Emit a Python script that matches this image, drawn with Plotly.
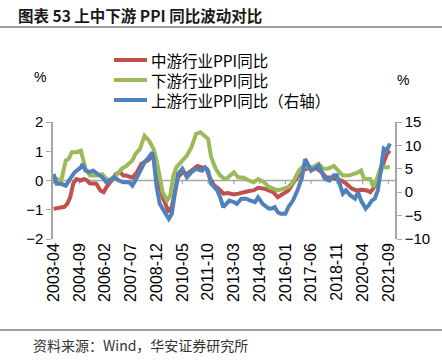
import plotly.graph_objects as go

# ---------------- data ----------------
mid_dates = ["2003-04","2003-07","2003-11","2004-01","2004-03","2004-05","2004-07","2004-10","2004-12","2005-02",
             "2005-04","2005-08","2005-11","2006-01","2006-03","2006-07","2006-09","2006-12","2007-02","2007-04",
             "2007-08","2007-11","2008-02","2008-06","2008-09","2008-10","2008-12","2009-02","2009-04","2009-07",
             "2009-08","2009-10","2009-12","2010-02","2010-05","2010-08","2010-11","2011-03","2011-06","2011-09",
             "2011-11","2012-02","2012-05","2012-08","2012-11","2013-03","2013-06","2013-09","2014-01","2014-04",
             "2014-07","2014-11","2015-02","2015-05","2015-08","2015-12","2016-03","2016-06","2016-10","2016-12",
             "2017-03","2017-06","2017-10","2018-01","2018-04","2018-08","2018-11","2019-02","2019-05","2019-09",
             "2019-12","2020-03","2020-07","2020-09","2020-11","2021-02","2021-06","2021-08","2021-10"]
mid_vals = [-0.97,-0.93,-0.90,-0.80,-0.57,-0.10,0.05,0.00,0.05,0.00,
            -0.10,-0.10,-0.35,-0.40,-0.22,0.05,0.22,0.28,0.17,0.17,
            0.10,0.28,0.57,0.68,0.80,0.85,0.45,-0.22,-0.57,-0.90,
            -1.08,-0.90,-0.35,0.10,0.28,0.22,0.34,0.50,0.45,0.40,
            0.10,-0.17,-0.28,-0.45,-0.43,-0.48,-0.45,-0.40,-0.36,-0.34,
            -0.25,-0.28,-0.34,-0.40,-0.57,-0.45,-0.34,-0.10,0.17,0.34,
            0.40,0.45,0.40,0.28,0.10,0.10,0.05,0.00,-0.10,-0.28,
            -0.34,-0.32,-0.34,-0.40,-0.28,0.00,0.62,0.90,1.02]

down_dates = ["2003-04","2003-06","2003-09","2003-12","2004-02","2004-04","2004-07","2004-10","2004-11","2005-01",
              "2005-04","2005-09","2005-12","2006-02","2006-05","2006-09","2007-01","2007-04","2007-08","2007-10",
              "2008-01","2008-04","2008-07","2008-10","2008-12","2009-02","2009-04","2009-07","2009-09","2009-11",
              "2010-01","2010-05","2010-08","2010-11","2011-02","2011-05","2011-08","2011-10","2011-12","2012-03",
              "2012-06","2012-09","2012-11","2013-03","2013-06","2013-09","2014-01","2014-04","2014-07","2014-11",
              "2015-02","2015-05","2015-08","2015-12","2016-03","2016-06","2016-10","2017-01","2017-04","2017-07",
              "2017-11","2018-02","2018-05","2018-09","2018-12","2019-03","2019-07","2019-10","2020-01","2020-03",
              "2020-05","2020-09","2020-11","2021-01","2021-04","2021-08","2021-10"]
down_vals = [0.10,0.05,0.00,0.68,0.74,0.97,0.97,1.02,0.80,0.40,
             0.17,0.17,0.22,0.10,0.00,0.17,0.40,0.50,0.68,0.90,
             1.08,1.53,1.36,1.08,0.68,0.10,-0.40,-0.68,-0.51,0.17,
             0.45,0.68,0.85,1.14,1.59,1.65,1.53,1.42,0.80,0.40,
             0.17,0.05,0.10,0.28,0.10,0.10,0.00,-0.06,0.05,-0.06,
             -0.22,-0.28,-0.34,-0.28,-0.22,-0.06,0.34,0.50,0.45,0.45,
             0.57,0.40,0.40,0.50,0.34,0.17,0.17,0.22,0.28,0.34,
             0.05,0.05,-0.22,0.00,0.45,0.45,0.45]

up_dates = ["2003-04","2003-06","2003-09","2003-12","2004-03","2004-06","2004-10","2004-11","2005-01","2005-04",
            "2005-06","2005-09","2005-12","2006-03","2006-05","2006-08","2006-11","2007-02","2007-06","2007-08",
            "2007-10","2008-01","2008-04","2008-07","2008-09","2008-10","2008-12","2009-02","2009-04","2009-07",
            "2009-08","2009-10","2009-12","2010-02","2010-05","2010-08","2010-11","2011-02","2011-06","2011-08",
            "2011-10","2011-12","2012-04","2012-06","2012-08","2012-10","2012-12","2013-03","2013-05","2013-08",
            "2013-11","2014-02","2014-05","2014-07","2014-10","2015-02","2015-04","2015-06","2015-08","2015-10",
            "2016-01","2016-03","2016-06","2016-09","2016-12","2017-02","2017-04","2017-06","2017-08","2017-11",
            "2018-01","2018-03","2018-06","2018-09","2018-11","2019-01","2019-03","2019-05","2019-08","2019-11",
            "2020-01","2020-03","2020-06","2020-08","2020-10","2020-12","2021-02","2021-04","2021-06","2021-08",
            "2021-10"]
up_vals = [3.9,1.8,1.8,1.4,2.9,4.3,5.3,6.0,4.6,4.3,
           4.6,3.9,3.2,2.1,2.5,3.2,2.5,2.1,2.1,1.4,
           2.5,4.6,6.4,7.5,8.5,7.1,1.1,-2.5,-3.5,-4.9,
           -5.7,-4.6,0.4,3.9,5.0,3.2,4.3,5.0,4.6,5.3,
           4.6,1.8,0.4,-1.1,-3.2,-2.5,-1.8,-2.1,-2.5,-1.4,
           -1.4,-1.8,-2.1,-1.1,-2.5,-3.5,-3.5,-3.2,-4.3,-4.6,
           -4.6,-3.2,-1.8,0.4,3.2,7.1,5.7,4.6,5.0,5.7,
           4.3,2.9,2.5,3.6,3.6,1.8,-0.3,0.4,-0.7,-1.4,
           0.0,-1.8,-3.5,-2.8,-1.8,-1.4,0.4,4.6,9.3,8.9,
           10.4]

tick_labels = ["2003-04","2004-09","2006-02","2007-07","2008-12","2010-05","2011-10",
               "2013-03","2014-08","2016-01","2017-06","2018-11","2020-04","2021-09"]

names = ["中游行业PPI同比", "下游行业PPI同比", "上游行业PPI同比（右轴）"]
colors = ["#C0504D", "#9BBB59", "#4F81BD"]
title_text = "图表 53 上中下游 PPI 同比波动对比"
source_text = "资料来源：Wind，华安证券研究所"

# ---------------- layout constants ----------------
W, H = 442, 360
L, R, T, B = 53, 395, 122, 239
PW = R - L
PH = B - T

def px_x(p):
    return (p - L) / PW

def px_y(p):
    return (B - p) / PH

FONT = "Liberation Sans, Arial, Noto Sans CJK SC, sans-serif"
CJK = "Noto Sans CJK SC, sans-serif"
AXC = "#A6A6A6"

fig = go.Figure()
fig.add_trace(go.Scatter(x=mid_dates, y=mid_vals, name=names[0], mode="lines",
                         line=dict(color=colors[0], width=4)))
fig.add_trace(go.Scatter(x=down_dates, y=down_vals, name=names[1], mode="lines",
                         line=dict(color=colors[1], width=4)))
fig.add_trace(go.Scatter(x=up_dates, y=up_vals, name=names[2], mode="lines", yaxis="y2",
                         line=dict(color=colors[2], width=4)))

tickvals = [t + "-01" for t in tick_labels]

shapes = []
shapes.append(dict(type="line", xref="paper", yref="y", x0=0, x1=1, y0=0, y1=0,
                   line=dict(color=AXC, width=1.5), layer="below"))
for tv in tickvals:
    shapes.append(dict(type="line", xref="x", yref="y", x0=tv, x1=tv, y0=0, y1=-0.13,
                       line=dict(color=AXC, width=1.2), layer="below"))
shapes.append(dict(type="line", xref="paper", yref="paper", x0=px_x(0), x1=px_x(W),
                   y0=px_y(27), y1=px_y(27), line=dict(color="#404040", width=1)))
shapes.append(dict(type="line", xref="paper", yref="paper", x0=px_x(0), x1=px_x(W),
                   y0=px_y(330), y1=px_y(330), line=dict(color="#404040", width=1)))

annotations = [
    dict(text="<b>" + title_text + "</b>", xref="paper", yref="paper", x=px_x(16), y=px_y(15),
         xanchor="left", yanchor="middle", showarrow=False,
         font=dict(family=CJK, size=15.5, color="#1a1a1a")),
    dict(text=source_text, xref="paper", yref="paper", x=px_x(31), y=px_y(345),
         xanchor="left", yanchor="middle", showarrow=False,
         font=dict(family=CJK, size=14, color="#333333")),
    dict(text="%", xref="paper", yref="paper", x=px_x(40), y=px_y(77),
         xanchor="center", yanchor="middle", showarrow=False,
         font=dict(family=FONT, size=14, color="#000000")),
    dict(text="%", xref="paper", yref="paper", x=px_x(403), y=px_y(80),
         xanchor="center", yanchor="middle", showarrow=False,
         font=dict(family=FONT, size=14, color="#000000")),
]

# legend drawn as line swatches and labels
legend_rows = [60, 80, 100]
for name, col, ry in zip(names, colors, legend_rows):
    shapes.append(dict(type="line", xref="paper", yref="paper", x0=px_x(114), x1=px_x(147),
                       y0=px_y(ry), y1=px_y(ry), line=dict(color=col, width=4)))
    annotations.append(dict(text=name, xref="paper", yref="paper", x=px_x(149), y=px_y(ry),
                            xanchor="left", yanchor="middle", showarrow=False,
                            font=dict(family=CJK, size=15.5, color="#000000")))

fig.update_layout(
    width=W, height=H,
    margin=dict(l=L, r=W - R, t=T, b=H - B, pad=0, autoexpand=False),
    paper_bgcolor="white", plot_bgcolor="white",
    showlegend=False,
    xaxis=dict(type="date", range=["2003-03-20", "2022-01-12"], tickvals=tickvals,
               ticktext=tick_labels, tickangle=-90, showgrid=False, zeroline=False,
               showline=False, ticks="", automargin=False,
               tickfont=dict(family=FONT, size=16, color="#000000")),
    yaxis=dict(range=[-2, 2], dtick=1, tick0=0, showgrid=False, zeroline=False,
               showline=True, linecolor=AXC, linewidth=1.5, ticks="outside", ticklen=5,
               tickcolor=AXC, tickwidth=1.2, automargin=False,
               tickfont=dict(family=FONT, size=15, color="#000000")),
    yaxis2=dict(range=[-10, 15], dtick=5, tick0=0, overlaying="y", side="right",
                showgrid=False, zeroline=False, showline=True, linecolor=AXC, linewidth=1.5,
                ticks="outside", ticklen=5, tickcolor=AXC, tickwidth=1.2, automargin=False,
                tickfont=dict(family=FONT, size=15, color="#000000")),
    shapes=shapes,
    annotations=annotations,
)

fig.write_html("out.html", config={"displayModeBar": False},
               post_script="document.body.style.margin='0';document.body.style.overflow='hidden';")
